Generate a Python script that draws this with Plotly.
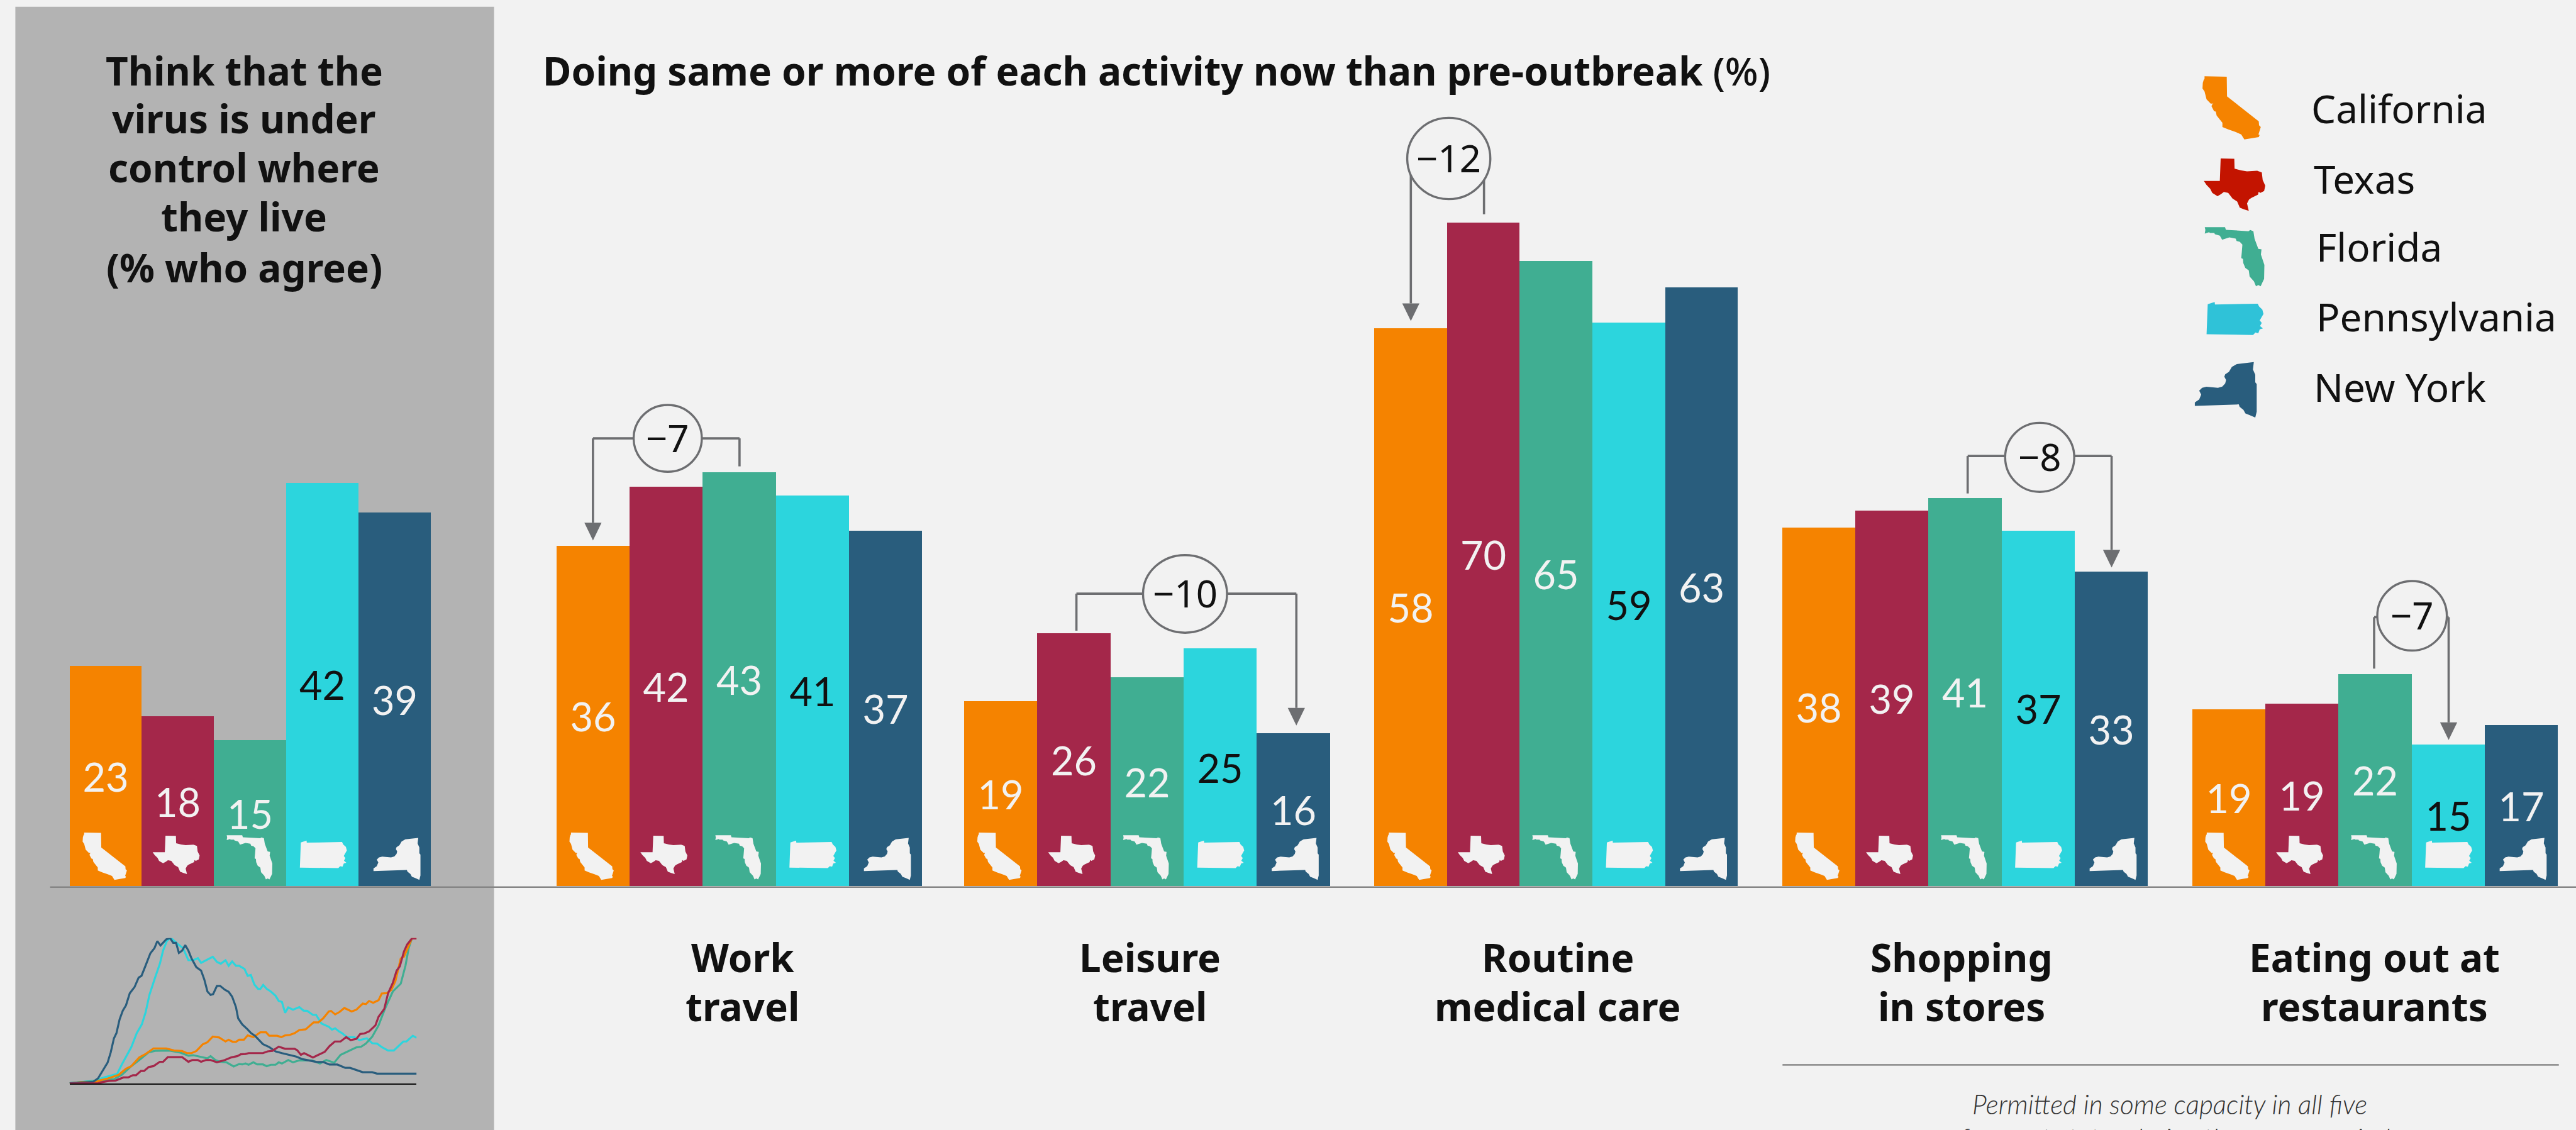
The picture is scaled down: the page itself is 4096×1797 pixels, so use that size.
import plotly.graph_objects as go

# ---- categories / series -------------------------------------------------
states = ["California", "Texas", "Florida", "Pennsylvania", "New York"]
state_colors = ["#F58300", "#A4274A", "#40AE92", "#2CD5DD", "#295D7D"]
legend_colors = ["#F58300", "#C31400", "#40AE92", "#2FC2D8", "#295D7D"]
group_names = ["Think that the virus is under control", "Work travel", "Leisure travel",
               "Routine medical care", "Shopping in stores", "Eating out at restaurants"]

# bar heights (unrounded)
california = [23.1, 35.7, 19.4, 58.5, 37.6, 18.5]
texas = [17.8, 41.9, 26.5, 69.6, 39.4, 19.1]
florida = [15.3, 43.4, 21.9, 65.6, 40.7, 22.2]
pennsylvania = [42.3, 41.0, 24.9, 59.1, 37.3, 14.8]
new_york = [39.2, 37.3, 16.0, 62.8, 33.0, 16.9]

# printed labels
california_labels = [23, 36, 19, 58, 38, 19]
texas_labels = [18, 42, 26, 70, 39, 19]
florida_labels = [15, 43, 22, 65, 41, 22]
pennsylvania_labels = [42, 41, 25, 59, 37, 15]
new_york_labels = [39, 37, 16, 63, 33, 17]

# inset epidemic curves (relative units: peak = 838, span = 1095)
ny_x = [0,75,90,120,130,140,148,158,168,178,190,205,218,227,240,255,268,277,287,305,317,327,336,345,355,365,375,385,400,415,425,435,445,453,465,475,490,502,513,525,532,545,560,573,585,610,630,650,670,690,715,735,755,780,800,820,845,870,885,905,925,955,970,1095]
ny_y = [2,10,30,120,180,260,290,370,420,450,520,555,610,620,680,750,780,820,795,830,838,810,810,752,765,797,765,720,670,650,600,530,510,515,562,562,540,528,500,440,375,340,315,290,275,227,210,185,175,165,155,140,132,124,124,109,109,90,90,78,65,65,57,57]
pa_x = [0,75,110,150,165,180,195,212,228,240,252,270,285,295,308,320,340,358,375,390,405,415,452,465,477,492,502,513,525,535,552,562,572,583,595,602,611,622,635,650,660,670,680,690,705,725,738,750,768,778,795,818,828,838,850,860,875,898,915,938,955,970,985,1005,1023,1053,1063,1083,1095]
pa_y = [2,15,35,55,110,160,210,290,340,410,510,610,690,765,825,838,805,780,710,710,722,695,730,700,690,710,678,703,678,678,660,620,625,570,545,545,568,545,530,505,475,470,407,438,425,440,420,418,395,395,345,327,310,318,300,290,267,267,250,260,232,230,210,190,190,242,242,275,263]
ca_x = [0,35,85,100,120,155,178,195,220,240,265,305,330,355,370,385,400,420,435,452,472,492,502,515,525,535,550,562,580,602,620,630,655,668,680,695,710,725,745,770,785,800,818,825,838,852,867,890,905,925,935,945,958,975,985,1000,1015,1028,1045,1055,1080,1095]
ca_y = [0,8,10,20,28,50,85,100,150,170,202,202,190,187,175,175,187,225,238,270,265,242,252,240,240,252,252,277,267,295,295,275,275,267,277,280,290,308,312,352,352,375,415,418,398,412,435,415,425,460,457,475,465,480,518,520,538,590,720,730,835,835]
fl_x = [0,140,165,195,220,250,270,315,350,375,390,405,435,445,460,475,495,518,535,545,555,565,580,592,610,622,635,650,660,670,690,705,725,765,790,810,835,855,880,905,920,935,955,975,995,1020,1045,1060,1070,1080]
fl_y = [2,25,50,100,135,180,188,190,178,160,163,157,145,158,135,125,122,98,112,110,115,108,122,110,110,100,108,108,122,115,135,122,133,133,115,135,120,165,188,208,212,230,270,335,430,530,575,680,780,835]
tx_x = [0,90,100,125,145,170,185,200,210,225,235,250,265,285,295,310,355,375,387,405,415,430,445,465,490,510,530,540,555,565,610,625,640,660,680,710,718,730,740,768,785,805,820,837,855,873,887,905,917,930,945,965,975,993,1005,1020,1032,1042,1055,1065,1080,1095]
tx_y = [0,2,7,15,17,35,35,48,48,72,72,95,100,125,125,152,152,125,135,135,125,135,135,122,135,150,158,168,170,175,175,185,188,212,200,200,192,165,175,150,165,182,215,242,242,267,250,257,285,288,300,335,385,430,520,580,650,675,760,800,835,835]

# ---- layout constants (reference pixels) ----------------------------------
W, H = 5704, 2503
SCALE = 4096 / W
BASE_Y = 1962
UNIT = 21.1
group_left = [154, 1232, 2135, 3043, 3946, 4854]
group_bar = [160, 162, 162, 161, 162, 162]
BG = "#F2F2F2"
PANEL = "#B3B3B3"
GREY = "#6D6E71"
INK = "#111111"
FONT = "Noto Sans"
NUM_FONT = "Lato"
HEAD_SIZE = 62
NUM_SIZE = 63
LEG_SIZE = 62


def px(x):
    return x / W


def py(y):
    return 1 - y / H


# state silhouettes, traced outlines (normalised to their bbox on use)
outlines = {
    "California": [(283,128),(360,130),(361,210),(471,312),(472,328),(478,335),(470,365),(474,368),(471,376),(421,386),(410,365),(390,355),(365,345),(345,335),(345,318),(325,288),(322,272),(316,270),(307,250),(312,238),(320,236),(305,240),(290,222),(283,190),(276,178),(277,155),(280,143),(283,138)],
    "Texas": [(339,464),(386,465),(387,506),(410,513),(430,517),(465,514),(481,521),(484,552),(493,575),(489,597),(476,605),(470,600),(468,612),(445,625),(437,632),(430,648),(436,678),(420,672),(405,665),(396,640),(380,628),(365,605),(350,601),(340,610),(328,618),(310,605),(303,588),(290,572),(281,556),(336,556)],
    "Florida": [(285,743),(355,743),(358,754),(436,760),(442,755),(453,760),(457,790),(470,832),(481,834),(479,855),(491,898),(490,955),(478,985),(470,980),(462,985),(455,965),(440,945),(437,920),(425,910),(418,890),(417,873),(411,870),(413,845),(415,815),(406,803),(395,800),(392,790),(370,785),(345,795),(337,778),(320,772),(318,767),(303,767),(300,764),(285,770),(287,755)],
    "Pennsylvania": [(295,1058),(319,1049),(320,1059),(468,1056),(473,1068),(484,1080),(488,1098),(475,1125),(482,1135),(476,1148),(486,1158),(475,1162),(470,1178),(460,1175),(452,1185),(291,1182)],
    "New York": [(395,1303),(454,1295),(451,1325),(459,1347),(459,1378),(464,1385),(464,1498),(459,1522),(440,1512),(425,1505),(418,1490),(405,1478),(402,1468),(250,1474),(250,1460),(265,1448),(272,1428),(265,1412),(275,1400),(290,1396),(330,1400),(345,1395),(355,1382),(358,1368),(352,1355),(355,1345),(368,1335),(378,1315)],
}
# x0, x1, y0, y1 of the legend silhouettes
legend_boxes = [(4877,5006,169,309),(4880,5016,351,467),(4882,5014,503,634),(4886,5012,669,742),(4860,4997,802,925)]
# x0, x1 relative to bar's left edge, height, gap above baseline
icon_boxes = [(29,127,105,13),(24,128,85,26),(28,129,98,14),(30,134,61,39),(33,137,93,13)]
legend_text_pos = [(5115,273),(5120,429),(5126,579),(5126,734),(5120,890)]

# start_x, start_end_y, arrow_x, arrow_tip_y, horiz_y, circle cx, cy, rx, ry, label
brackets = [
    (1637.5,1033,1313,1197,971,1478.5,971,75.5,74,"\u22127"),
    (2383.5,1397,2870.5,1607,1315,2624,1315.5,93,86,"\u221210"),
    (3286,474.5,3124,711,351,3208,351,92,90,"\u221212"),
    (4357,1093,4675.7,1257,1010,4516.5,1013,76.5,76.5,"\u22128"),
    (5257,1481,5422,1639,1367,5341,1364,77,77,"\u22127"),
]

fig = go.Figure()
values = [california, texas, florida, pennsylvania, new_york]
labels = [california_labels, texas_labels, florida_labels, pennsylvania_labels, new_york_labels]
for i, s in enumerate(states):
    xs = [group_left[g] + (i + 0.5) * group_bar[g] for g in range(6)]
    fig.add_trace(go.Bar(
        x=xs, y=values[i], width=group_bar, name=s, marker=dict(color=state_colors[i], line=dict(width=0)),
        text=[str(v) for v in labels[i]], textposition="inside", insidetextanchor="middle", textangle=0,
        constraintext="none", cliponaxis=False,
        insidetextfont=dict(family=NUM_FONT, size=NUM_SIZE, color=INK if s == "Pennsylvania" else "#F2F2F2"),
        showlegend=False, hoverinfo="skip", xaxis="x", yaxis="y"))

for name, x, y, color in [("Pennsylvania", pa_x, pa_y, state_colors[3]),
                          ("Florida", fl_x, fl_y, state_colors[2]),
                          ("California", ca_x, ca_y, state_colors[0]),
                          ("New York", ny_x, ny_y, state_colors[4]),
                          ("Texas", tx_x, tx_y, state_colors[1])]:
    fig.add_trace(go.Scatter(x=x, y=y, mode="lines", line=dict(color=color, width=3.2), name=name,
                             cliponaxis=False, showlegend=False, hoverinfo="skip", xaxis="x2", yaxis="y2"))

shapes = []
shapes.append(dict(type="rect", xref="paper", yref="paper", layer="below", x0=px(34), x1=px(1094),
                   y0=0, y1=py(15), fillcolor=PANEL, line=dict(width=0)))


def state_path(name, x0, x1, y0, y1):
    pts = outlines[name]
    xa, xb = min(p[0] for p in pts), max(p[0] for p in pts)
    ya, yb = min(p[1] for p in pts), max(p[1] for p in pts)
    seg = []
    for k, (a, b) in enumerate(pts):
        X = x0 + (a - xa) / (xb - xa) * (x1 - x0)
        Y = y0 + (b - ya) / (yb - ya) * (y1 - y0)
        seg.append(("M" if k == 0 else "L") + f"{px(X):.5f},{py(Y):.5f}")
    return " ".join(seg) + " Z"


for i, s in enumerate(states):
    x0, x1, y0, y1 = legend_boxes[i]
    shapes.append(dict(type="path", xref="paper", yref="paper", path=state_path(s, x0, x1, y0, y1),
                       fillcolor=legend_colors[i], line=dict(width=0)))
    a, b, h, gap = icon_boxes[i]
    for g in range(6):
        left = group_left[g] + i * group_bar[g]
        shapes.append(dict(type="path", xref="paper", yref="paper",
                           path=state_path(s, left + a, left + b, BASE_Y - gap - h, BASE_Y - gap),
                           fillcolor=BG, line=dict(width=0)))


def seg(x0, y0, x1, y1, color=GREY, width=3.6):
    return dict(type="line", xref="paper", yref="paper", x0=px(x0), y0=py(y0), x1=px(x1), y1=py(y1),
                line=dict(color=color, width=width))


shapes.append(seg(111, 1965, W, 1965, "#858585", 2.4))
shapes.append(seg(3947, 2359, 5666, 2359, "#666666", 2))

annotations = []


def label(text, x, baseline, size, anchor="center", family=FONT, weight=400, color=INK, italic=False):
    annotations.append(dict(
        text=text, xref="paper", yref="paper", x=px(x), y=py(baseline - 0.388 * size / SCALE),
        xanchor=anchor, yanchor="middle", showarrow=False, align=anchor,
        font=dict(family=family, size=size, color=color, weight=weight,
                  style="italic" if italic else "normal")))


for (sx, sy, ax, tip, hy, cx, cy, rx, ry, txt) in brackets:
    top = tip - 39
    shapes.append(seg(sx, sy, sx, hy))
    shapes.append(seg(sx, hy, ax, hy))
    shapes.append(seg(ax, hy, ax, top))
    shapes.append(dict(type="path", xref="paper", yref="paper", fillcolor=GREY, line=dict(width=0),
                       path=f"M{px(ax-19):.5f},{py(top):.5f} L{px(ax+19):.5f},{py(top):.5f} L{px(ax):.5f},{py(tip):.5f} Z"))
    shapes.append(dict(type="circle", xref="paper", yref="paper", x0=px(cx - rx), x1=px(cx + rx),
                       y0=py(cy + ry), y1=py(cy - ry), fillcolor=BG, line=dict(color=GREY, width=3.4)))
    label(txt, cx, cy + 31, 60)

# headings
for line, base in zip(["Think that the", "virus is under", "control where", "they live", "(% who agree)"],
                      [189, 296, 404, 513, 625]):
    label(line, 541, base, HEAD_SIZE, weight=700)
label("Doing same or more of each activity now than pre-outbreak <span style='font-weight:500'>(%)</span>",
      1199, 189, HEAD_SIZE, anchor="left", weight=700)

cat_lines = [(1644, "Work", "travel"), (2547, "Leisure", "travel"), (3449, "Routine", "medical care"),
             (4343, "Shopping", "in stores"), (5258, "Eating out at", "restaurants")]
for cx, l1, l2 in cat_lines:
    label(l1, cx, 2153, HEAD_SIZE, weight=700)
    label(l2, cx, 2262, HEAD_SIZE, weight=700)

for s, (x, b) in zip(states, legend_text_pos):
    label(s, x, b, LEG_SIZE, anchor="left")

label("Permitted in some capacity in all five", 4805, 2468, 42.5, family=NUM_FONT, weight=300, color="#333333", italic=True)
label("for most states during the survey period", 4816, 2543, 42.5, family=NUM_FONT, weight=300, color="#333333", italic=True)

fig.update_layout(
    width=4096, height=1797, margin=dict(l=0, r=0, t=0, b=0), autosize=False,
    paper_bgcolor=BG, plot_bgcolor="rgba(0,0,0,0)", barmode="overlay", bargap=0,
    showlegend=False, shapes=shapes, annotations=annotations,
    xaxis=dict(domain=[0, 1], range=[0, W], visible=False, fixedrange=True),
    yaxis=dict(domain=[0, 1], range=[(BASE_Y - H) / UNIT, BASE_Y / UNIT], visible=False, fixedrange=True),
    xaxis2=dict(domain=[154 / W, 922.5 / W], range=[0, 1095], anchor="y2", showline=True, linecolor="#111111",
                linewidth=1.6, showgrid=False, zeroline=False, ticks="", showticklabels=False, fixedrange=True),
    yaxis2=dict(domain=[1 - 2400 / H, 1 - 2077.7 / H], range=[0, 838], anchor="x2", visible=False,
                showgrid=False, zeroline=False, fixedrange=True),
)

fig.write_html("out.html", config={"displayModeBar": False},
               post_script="document.body.style.margin='0';document.documentElement.style.overflow='hidden';")
